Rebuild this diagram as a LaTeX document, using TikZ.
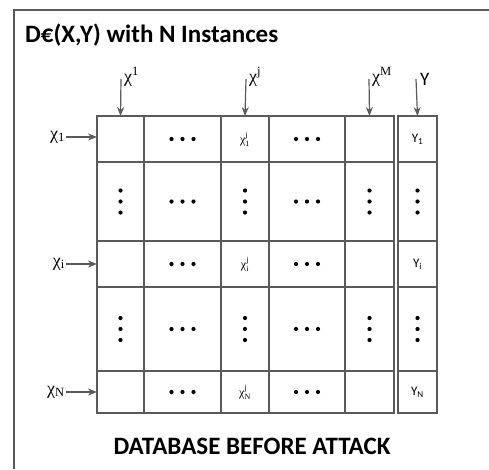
\documentclass[tikz,border=0pt]{standalone}
\usepackage{amsmath}
\usepackage{fontspec}
\setmainfont{Carlito}
\newfontfamily\chifont{Liberation Serif}
\usepackage{xcolor}
\usepackage{tikz}
\usetikzlibrary{arrows.meta, positioning, calc}

\definecolor{gridgray}{HTML}{5A5A5A}

\tikzset{
  cell/.style={draw=gridgray, line width=1.3pt, rectangle, inner sep=0pt, outer sep=0pt},
  arr/.style={-{Stealth[length=9pt,width=7pt]}, draw=gridgray, line width=1.2pt},
  biglabel/.style={font=\fontsize{18}{22}\chifont, inner sep=1pt},
  smalllabel/.style={font=\fontsize{13}{15}\selectfont, inner sep=0pt},
  heading/.style={font=\fontsize{25}{29}\selectfont\bfseries, inner sep=0pt}
}

\newcommand{\rowdots}[1]{\foreach \k in {-1,0,1} \fill ($(#1)+(\k*11,0)$) circle (2.1);}
\newcommand{\coldots}[1]{\foreach \k in {-1,0,1} \fill ($(#1)+(0,\k*11)$) circle (2.1);}
\newcommand{\chij}[1]{$\text{χ}^{\text{j}}_{\text{#1}}$}

\begin{document}
\begin{tikzpicture}[x=1pt, y=-1pt]
      \useasboundingbox (0,0) rectangle (489,469);

      % frame
      \draw[gridgray, line width=1.4pt] (14,469) -- (14,10) -- (489,10);

      % headings
      \node[heading, anchor=base west] (title) at (25,42) {D€(X,Y) with N Instances};
      \node[heading, anchor=base] (caption) at (252,454) {DATABASE BEFORE ATTACK};

      % table cells
      \foreach \xa/\xb/\cn in {97/144/a, 144/221/b, 221/269/c, 269/345/d, 345/394/e, 398/437/y}
        \foreach \ya/\yb/\rn in {116/162/1, 162/241/2, 241/287/3, 287/371/4, 371/413/5}
          \node[cell, minimum width=\xb-\xa, minimum height=\yb-\ya] (\cn\rn)
            at ({(\xa+\xb)/2},{(\ya+\yb)/2}) {};

      % dots
      \foreach \r in {1,...,5} {
        \rowdots{b\r}
        \rowdots{d\r}
      }
      \foreach \c in {a,c,e,y} {
        \coldots{\c2}
        \coldots{\c4}
      }

      % cell texts
      \node[smalllabel, font=\fontsize{12}{14}\chifont] at (c1) {\chij{1}};
      \node[smalllabel, font=\fontsize{12}{14}\chifont] at (c3) {\chij{i}};
      \node[smalllabel, font=\fontsize{12}{14}\chifont] at (c5) {\chij{N}};
      \node[smalllabel] at (y1) {Y\textsubscript{1}};
      \node[smalllabel] at (y3) {Y\textsubscript{i}};
      \node[smalllabel] at (y5) {Y\textsubscript{N}};

      % column arrows
      \coordinate (t1) at (121,79);
      \coordinate (tj) at (246,79);
      \coordinate (tm) at (369,79);
      \coordinate (ty) at (416,79);
      \draw[arr] (t1) -- (a1.north);
      \draw[arr] (tj) -- (c1.north);
      \draw[arr] (tm) -- (e1.north);
      \draw[arr] (ty) -- (y1.north);
      \node[biglabel, anchor=base west] (lab1) at (123,82) {χ\textsuperscript{1}};
      \node[biglabel, anchor=base west] (labj) at (248,82) {χ\textsuperscript{j}};
      \node[biglabel, anchor=base west] (labm) at (371,82) {χ\textsuperscript{M}};
      \node[biglabel, font=\fontsize{19}{22}\selectfont, anchor=base west] (laby) at (419,85) {Y};

      % row arrows
      \node[biglabel, anchor=east] (row1) at (66,137) {χ\textsubscript{1}};
      \node[biglabel, anchor=east] (rowi) at (66,264) {χ\textsubscript{i}};
      \node[biglabel, anchor=east] (rown) at (66,392) {χ\textsubscript{N}};
      \draw[arr] (row1) -- (a1.west |- row1);
      \draw[arr] (rowi) -- (a3.west |- rowi);
      \draw[arr] (rown) -- (a5.west |- rown);
\end{tikzpicture}
\end{document}
